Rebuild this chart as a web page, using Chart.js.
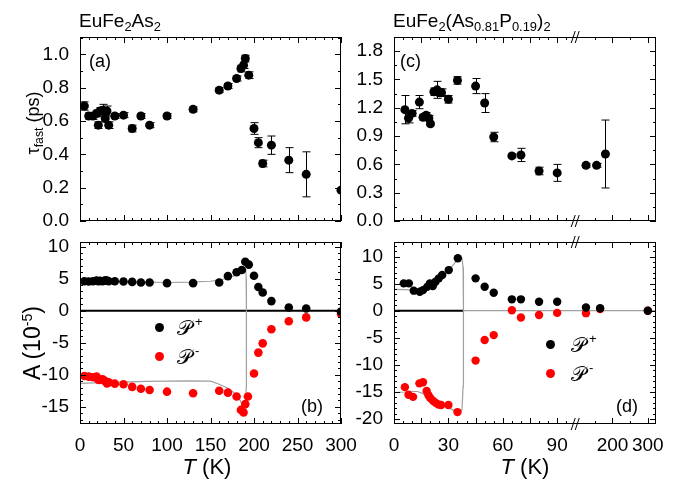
<!DOCTYPE html>
<html>
<head>
<meta charset="utf-8">
<script src="https://cdn.jsdelivr.net/npm/chart.js@4.4.0/dist/chart.umd.min.js"></script>
<style>
  body { margin: 0; background: #fff; }
  #wrap { position: relative; width: 681px; height: 481px; overflow: hidden; font-family: "Liberation Sans", Arial, sans-serif; color: #000; }
  canvas { position: absolute; left: 0; top: 0; }
  .txt { position: absolute; white-space: nowrap; line-height: 1; }
  .txt sub { font-size: 0.68em; vertical-align: -0.3em; line-height: 0; }
  .txt sup { font-size: 0.62em; vertical-align: 0.55em; line-height: 0; }
  .rot { transform: rotate(-90deg); transform-origin: center center; text-align: center; }
  .dot { position: absolute; width: 9px; height: 9px; border-radius: 50%; }
  .scr { font-family: "DejaVu Serif", "DejaVu Sans", serif; font-style: normal; display: inline-block; }
  .lg sup { display: inline-block; font-size: 13px; margin-left: 3px; vertical-align: 9px; font-family: "Liberation Sans", Arial, sans-serif; }
</style>
</head>
<body>
<div id="wrap">
  <canvas id="chartA" width="681" height="481"></canvas>
  <canvas id="chartB" width="681" height="481"></canvas>
  <canvas id="chartC" width="681" height="481"></canvas>
  <canvas id="chartD" width="681" height="481"></canvas>

  <!-- Titles -->
  <div class="txt" style="left:79px;top:11px;font-size:19px">EuFe<sub>2</sub>As<sub>2</sub></div>
  <div class="txt" style="left:393px;top:11px;font-size:19px">EuFe<sub>2</sub>(As<sub>0.81</sub>P<sub>0.19</sub>)<sub>2</sub></div>

  <!-- Axis titles -->
  <div class="txt rot" style="left:-27px;top:111px;width:120px;height:24px;line-height:24px;font-size:18px">&tau;<sub>fast</sub> (ps)</div>
  <div class="txt rot" style="left:-38px;top:328px;width:140px;height:30px;line-height:30px;font-size:23px">A (10<sup>-5</sup>)</div>
  <div class="txt" style="left:147px;top:456px;width:120px;text-align:center;font-size:22px"><i>T</i> (K)</div>
  <div class="txt" style="left:465px;top:456px;width:120px;text-align:center;font-size:22px"><i>T</i> (K)</div>

  <!-- Panel labels -->
  <div class="txt" style="left:89px;top:52px;font-size:18px">(a)</div>
  <div class="txt" style="left:301px;top:397px;font-size:18px">(b)</div>
  <div class="txt" style="left:400px;top:52px;font-size:18px">(c)</div>
  <div class="txt" style="left:616px;top:397px;font-size:18px">(d)</div>

  <!-- Legends -->
  <div class="dot" style="left:155px;top:323px;background:#000"></div>
  <div class="txt lg" style="left:177px;top:317px;font-size:21px"><span class="scr">&#x1D4AB;</span><sup>+</sup></div>
  <div class="dot" style="left:155px;top:352px;background:#f00"></div>
  <div class="txt lg" style="left:177px;top:346px;font-size:21px"><span class="scr">&#x1D4AB;</span><sup>-</sup></div>
  <div class="dot" style="left:546px;top:340px;background:#000"></div>
  <div class="txt lg" style="left:571px;top:334px;font-size:21px"><span class="scr">&#x1D4AB;</span><sup>+</sup></div>
  <div class="dot" style="left:546px;top:369px;background:#f00"></div>
  <div class="txt lg" style="left:571px;top:363px;font-size:21px"><span class="scr">&#x1D4AB;</span><sup>-</sup></div>
</div>

<script>
// Panel (a): tau_fast of EuFe2As2
const tempA = [5, 10, 15, 19, 21, 23, 26, 29, 31, 33, 40, 50, 60, 70, 80, 100, 130, 160, 170, 180, 185, 188, 190, 194, 200, 205, 210, 220, 240, 260, 300];
const tauA = [0.69, 0.63, 0.63, 0.645, 0.575, 0.66, 0.665, 0.615, 0.66, 0.575, 0.63, 0.635, 0.555, 0.63, 0.575, 0.63, 0.67, 0.785, 0.81, 0.855, 0.915, 0.935, 0.975, 0.875, 0.555, 0.47, 0.345, 0.455, 0.365, 0.28, 0.185];
const tauErrA = [0.025, 0.02, 0.02, 0.02, 0.02, 0.02, 0.035, 0.02, 0.03, 0.02, 0.015, 0.015, 0.02, 0.015, 0.015, 0.015, 0.015, 0.015, 0.015, 0.015, 0.02, 0.02, 0.02, 0.02, 0.035, 0.03, 0.02, 0.055, 0.075, 0.135, 0];

// Panel (b): amplitudes of EuFe2As2
const tempBPlus = [5, 10, 15, 19, 21, 23, 26, 29, 31, 33, 40, 50, 60, 70, 80, 100, 130, 160, 170, 180, 186, 190, 194, 200, 205, 210, 220, 240, 260, 300];
const ampBPlus = [4.6, 4.55, 4.6, 4.7, 4.6, 4.65, 4.6, 4.75, 4.7, 4.6, 4.6, 4.55, 4.5, 4.4, 4.4, 4.3, 4.3, 4.4, 5.4, 6.0, 6.35, 7.65, 7.2, 5.45, 3.7, 2.85, 1.5, 0.5, 0.35, -0.15];
const tempBMinus = [5, 10, 15, 19, 21, 23, 26, 29, 31, 33, 40, 50, 60, 70, 80, 100, 130, 160, 170, 180, 185, 188, 190, 193, 200, 205, 210, 220, 240, 260, 300];
const ampBMinus = [-10.2, -10.3, -10.4, -10.3, -10.8, -10.8, -10.7, -11.0, -11.35, -11.2, -11.4, -11.5, -11.9, -12.2, -12.4, -12.65, -12.9, -12.5, -12.8, -13.4, -15.5, -15.9, -14.6, -13.4, -9.8, -6.55, -5.1, -2.9, -1.65, -1.05, -0.5];
const fitTempB = [0, 25, 50, 75, 100, 125, 150, 160, 170, 176, 180, 184, 187, 189.5, 190.5, 191, 191.3];
const fitBPlus = [4.6, 4.55, 4.5, 4.45, 4.4, 4.45, 4.6, 4.8, 5.1, 5.4, 5.6, 5.9, 6.15, 6.35, 6.4, 5.0, 0];
const fitBMinus = [-11.35, -11.25, -11.15, -11.05, -11.0, -10.95, -11.0, -11.5, -12.1, -12.7, -13.2, -14.0, -14.9, -15.9, -16.2, -12.0, 0];

// Panel (c): tau_fast of EuFe2(As0.81P0.19)2
const tempC = [6, 8, 10, 14, 16, 17.7, 19.2, 20.1, 22, 23.8, 25.1, 26.2, 30, 35, 45, 50, 55, 65, 70, 80, 90, 125, 155, 180];
const tauC = [1.18, 1.09, 1.14, 1.26, 1.10, 1.12, 1.09, 1.03, 1.37, 1.39, 1.36, 1.36, 1.29, 1.49, 1.43, 1.25, 0.89, 0.69, 0.70, 0.53, 0.51, 0.59, 0.59, 0.71];
const tauErrC = [0.15, 0.05, 0.03, 0.07, 0.03, 0.03, 0.03, 0.02, 0.04, 0.09, 0.04, 0.04, 0.04, 0.04, 0.08, 0.1, 0.05, 0.02, 0.07, 0.04, 0.09, 0.02, 0.02, 0.36];

// Panel (d): amplitudes of EuFe2(As0.81P0.19)2
const tempDPlus = [5.4, 8.2, 10.9, 14.2, 16, 18.3, 19.8, 21.4, 22.9, 24.7, 26.6, 30.2, 35.2, 45, 50, 55, 65, 70, 80, 90, 125, 165, 300];
const ampDPlus = [5.05, 5.05, 3.7, 3.5, 3.8, 4.4, 5.05, 4.55, 5.35, 5.97, 6.6, 7.5, 9.67, 5.97, 4.43, 3.32, 2.1, 2.1, 1.66, 1.66, 0.6, 0.45, 0];
const tempDMinus = [6, 8, 10.5, 14, 16, 18, 19, 20, 21.5, 23, 24.5, 26, 30, 35, 45, 50, 55, 65, 70, 80, 90, 125, 165, 300];
const ampDMinus = [-14.1, -15.5, -15.9, -13.4, -13.2, -14.8, -15.6, -16.1, -16.6, -17.0, -17.3, -17.4, -17.4, -18.7, -9.2, -5.4, -4.5, 0.1, -1.25, -0.8, -0.4, -0.45, 0.3, 0];
const fitTempDPlus = [0, 6, 10, 13, 16, 20, 23, 26, 30, 33, 35, 36.5, 37.5, 38.1, 38.3, 330];
const fitDPlus = [3.95, 3.9, 3.8, 3.8, 4.1, 4.7, 5.4, 6.2, 7.4, 8.6, 9.5, 9.9, 9.7, 8.0, 0, 0];
const fitTempDMinus = [0, 6, 10, 13, 16, 20, 24, 28, 32, 35, 36.5, 37.5, 38.1, 38.3];
const fitDMinus = [-15.1, -15.0, -14.9, -14.9, -15.3, -16.1, -17.0, -17.6, -18.2, -18.7, -18.8, -18.3, -14.0, 0];

// Tick labels
const tickTempLeft = [0, 50, 100, 150, 200, 250, 300];
const tickTempRight = [0, 30, 60, 90, 200, 300];
const tickTauA = [0, 0.2, 0.4, 0.6, 0.8, 1.0];
const tickTauC = [0, 0.3, 0.6, 0.9, 1.2, 1.5, 1.8];
const tickAmpB = [-15, -10, -5, 0, 5, 10];
const tickAmpD = [-20, -15, -10, -5, 0, 5, 10];

// Layout
const W = 681, H = 481;
const YW = 70, XH = 30;
const boxA = { l: 80, r: 341, t: 37, b: 221 };
const boxB = { l: 80, r: 341, t: 242, b: 424 };
const boxC = { l: 394, r: 656, t: 37, b: 221 };
const boxD = { l: 394, r: 656, t: 242, b: 424 };
const RED = '#ff0000';
const GRAY = '#a0a0a0';
const FONT = { family: 'Liberation Sans', size: 19 };

// Broken temperature axis of (c)/(d): compressed above 100 K
function brk(t) {
    return t <= 100 ? t : 101 + (t - 100) * 0.195;
}

function pts(xs, ys, map) {
    return xs.map((t, i) => ({ x: map ? map(t) : t, y: ys[i] }));
}

function range(a, b, step) {
    const out = [];
    for (let v = a; v <= b + 1e-9; v += step) out.push(+v.toFixed(4));
    return out;
}

// Frame, inward ticks, zero line, error bars and axis breaks
const decorPlugin = {
    id: 'decor',
    beforeDatasetsDraw(chart) {
        const o = chart.options.plugins.decor;
        const { ctx, chartArea: a, scales: { x, y } } = chart;
        ctx.save();
        ctx.beginPath();
        ctx.rect(a.left, a.top, a.width, a.height);
        ctx.clip();
        if (o.zero) {
            ctx.strokeStyle = '#000';
            ctx.lineWidth = 2;
            const py = y.getPixelForValue(0);
            ctx.beginPath();
            ctx.moveTo(x.getPixelForValue(o.zero[0]), py);
            ctx.lineTo(x.getPixelForValue(o.zero[1]), py);
            ctx.stroke();
        }
        (o.errors || []).forEach(eb => {
            const data = chart.data.datasets[eb.dataset].data;
            ctx.strokeStyle = '#000';
            ctx.lineWidth = 1;
            data.forEach((p, i) => {
                const e = eb.values[i];
                if (!e) return;
                const px = Math.round(x.getPixelForValue(p.x)) + 0.5;
                const y1 = y.getPixelForValue(p.y + e);
                const y2 = y.getPixelForValue(p.y - e);
                ctx.beginPath();
                ctx.moveTo(px, y1); ctx.lineTo(px, y2);
                ctx.moveTo(px - 4, y1); ctx.lineTo(px + 4, y1);
                ctx.moveTo(px - 4, y2); ctx.lineTo(px + 4, y2);
                ctx.stroke();
            });
        });
        ctx.restore();
    },
    afterDraw(chart) {
        const o = chart.options.plugins.decor;
        const { ctx, chartArea: a, scales: { x, y } } = chart;
        ctx.save();
        ctx.strokeStyle = '#000';
        ctx.lineWidth = 1;
        ctx.strokeRect(a.left + 0.5, a.top + 0.5, a.width - 1, a.height - 1);
        ctx.beginPath();
        const tickX = (vals, len) => vals.forEach(v => {
            const px = Math.round(x.getPixelForValue(v)) + 0.5;
            ctx.moveTo(px, a.bottom); ctx.lineTo(px, a.bottom - len);
            ctx.moveTo(px, a.top); ctx.lineTo(px, a.top + len);
        });
        const tickY = (vals, len) => vals.forEach(v => {
            const py = Math.round(y.getPixelForValue(v)) + 0.5;
            ctx.moveTo(a.left, py); ctx.lineTo(a.left + len, py);
            ctx.moveTo(a.right, py); ctx.lineTo(a.right - len, py);
        });
        tickX(o.xMajor, 6); tickX(o.xMinor, 3);
        tickY(o.yMajor, 6); tickY(o.yMinor, 3);
        ctx.stroke();
        if (o.xBreak !== undefined) {
            const bx = x.getPixelForValue(o.xBreak);
            [a.top, a.bottom].forEach(by => {
                ctx.beginPath();
                ctx.moveTo(bx - 5, by + 6); ctx.lineTo(bx - 1, by - 6);
                ctx.moveTo(bx - 1, by + 6); ctx.lineTo(bx + 3, by - 6);
                ctx.stroke();
            });
        }
        ctx.restore();
    }
};

function axisX(min, max, vals, texts, show) {
    return {
        type: 'linear', min, max,
        afterFit: s => { s.height = show ? XH : 0; },
        afterBuildTicks: s => { s.ticks = vals.map(v => ({ value: v })); },
        ticks: {
            display: show, autoSkip: false, maxRotation: 0, padding: 2, color: '#000', font: FONT,
            callback: (v, i) => texts[i]
        },
        grid: { display: false },
        border: { display: false }
    };
}

function axisY(min, max, vals, texts) {
    return {
        type: 'linear', min, max,
        afterFit: s => { s.width = YW; },
        afterBuildTicks: s => { s.ticks = vals.map(v => ({ value: v })); },
        ticks: {
            autoSkip: false, padding: 3, color: '#000', font: FONT,
            callback: (v, i) => texts[i]
        },
        grid: { display: false },
        border: { display: false }
    };
}

function makePanel(id, box, cfg) {
    return new Chart(document.getElementById(id), {
        type: 'scatter',
        data: { datasets: cfg.datasets },
        options: {
            responsive: false,
            animation: false,
            devicePixelRatio: 1,
            layout: { padding: { left: box.l - YW, right: W - box.r, top: box.t, bottom: H - box.b - (cfg.showX ? XH : 0) } },
            plugins: { legend: { display: false }, tooltip: { enabled: false }, decor: cfg.decor },
            scales: { x: cfg.x, y: cfg.y }
        },
        plugins: [decorPlugin]
    });
}

function dots(data, color, r) {
    return { data, pointRadius: r, pointBackgroundColor: color, pointBorderWidth: 0, pointBorderColor: color, clip: 0 };
}

function curve(data) {
    return { data, showLine: true, borderColor: GRAY, borderWidth: 1.2, pointRadius: 0, fill: false, tension: 0 };
}

// Tick marks
const leftXMajor = range(0, 300, 50), leftXMinor = range(0, 300, 10);
const rightXMajor = range(0, 90, 15).concat([brk(200), brk(300)]);
const rightXMinor = range(0, 95, 5).concat([brk(150), brk(250)]);
const rightXVals = tickTempRight.map(brk);
const rightXMax = 144.5;

makePanel('chartA', boxA, {
    showX: false,
    datasets: [dots(pts(tempA, tauA), '#000', 4.5)],
    x: axisX(0, 300, tickTempLeft, tickTempLeft.map(String), false),
    y: axisY(0, 1.104, tickTauA, tickTauA.map(v => v.toFixed(1))),
    decor: { errors: [{ dataset: 0, values: tauErrA }], xMajor: leftXMajor, xMinor: leftXMinor, yMajor: range(0, 1.0, 0.2), yMinor: range(0, 1.1, 0.1) }
});

makePanel('chartB', boxB, {
    showX: true,
    datasets: [
        dots(pts(tempBPlus, ampBPlus), '#000', 4.3),
        dots(pts(tempBMinus, ampBMinus), RED, 4.3),
        curve(pts(fitTempB, fitBPlus)),
        curve(pts(fitTempB, fitBMinus))
    ],
    x: axisX(0, 300, tickTempLeft, tickTempLeft.map(String), true),
    y: axisY(-17.7, 10.73, tickAmpB, tickAmpB.map(String)),
    decor: { zero: [0, 300], xMajor: leftXMajor, xMinor: leftXMinor, yMajor: range(-15, 10, 5), yMinor: range(-17, 10, 1) }
});

makePanel('chartC', boxC, {
    showX: false,
    datasets: [dots(pts(tempC, tauC, brk), '#000', 4.5)],
    x: axisX(0, rightXMax, rightXVals, tickTempRight.map(String), false),
    y: axisY(0, 1.95, tickTauC, tickTauC.map(v => v.toFixed(1))),
    decor: { errors: [{ dataset: 0, values: tauErrC }], xBreak: 100.5, xMajor: rightXMajor, xMinor: rightXMinor, yMajor: range(0, 1.8, 0.3), yMinor: range(0, 1.95, 0.15) }
});

makePanel('chartD', boxD, {
    showX: true,
    datasets: [
        dots(pts(tempDPlus, ampDPlus, brk), '#000', 4.2),
        dots(pts(tempDMinus, ampDMinus, brk), RED, 4.2),
        curve(pts(fitTempDPlus, fitDPlus, brk)),
        curve(pts(fitTempDMinus, fitDMinus, brk))
    ],
    x: axisX(0, rightXMax, rightXVals, tickTempRight.map(String), true),
    y: axisY(-20.9, 12.68, tickAmpD, tickAmpD.map(String)),
    decor: { zero: [0, 38.3], xBreak: 100.5, xMajor: rightXMajor, xMinor: rightXMinor, yMajor: range(-20, 10, 5), yMinor: range(-20, 12, 1) }
});
</script>
</body>
</html>
